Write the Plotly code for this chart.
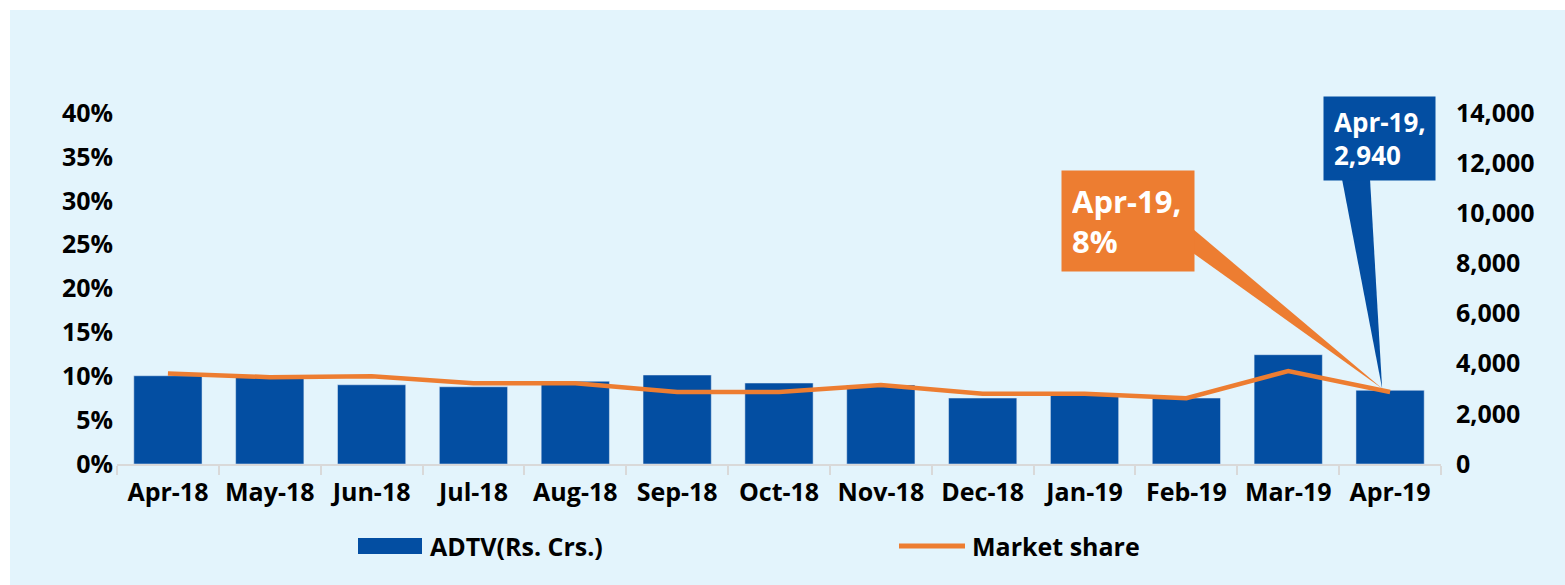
import plotly.graph_objects as go

# ---------------- data ----------------
months = ["Apr-18", "May-18", "Jun-18", "Jul-18", "Aug-18", "Sep-18", "Oct-18",
          "Nov-18", "Dec-18", "Jan-19", "Feb-19", "Mar-19", "Apr-19"]
adtv = [3520, 3450, 3160, 3080, 3300, 3550, 3230, 3150, 2630, 2750, 2630, 4360, 2940]
market_share = [0.103, 0.099, 0.100, 0.092, 0.092, 0.082, 0.082, 0.090, 0.080,
                0.080, 0.075, 0.106, 0.082]
share_ticks = [0, 0.05, 0.10, 0.15, 0.20, 0.25, 0.30, 0.35, 0.40]
adtv_ticks = [0, 2000, 4000, 6000, 8000, 10000, 12000, 14000]
series_names = ["ADTV(Rs. Crs.)", "Market share"]

# ---------------- style ----------------
W, H = 1565, 585
L, R, T, B = 117, 1441, 113, 464
BLUE = "#034EA2"
ORANGE = "#ED7D31"
PANEL = "#E3F4FC"
AXIS = "#D9D9D9"
FONT = "Open Sans"
FS = 25

ADTV_MAX = adtv_ticks[-1]
SHARE_MAX = share_ticks[-1]


def px(xp):
    return (xp - L) / (R - L)


def py(yp):
    return (B - yp) / (B - T)


fig = go.Figure()
fig.add_trace(go.Bar(x=months, y=adtv, name=series_names[0], marker_color=BLUE,
                     yaxis="y", showlegend=False))
fig.add_trace(go.Scatter(x=months, y=market_share, name=series_names[1], mode="lines",
                         line=dict(color=ORANGE, width=4.5), yaxis="y2", showlegend=False))

# data-derived callout tip (last point)
n = len(months)
tip_x = (n - 0.5) / n
tip_y = adtv[-1] / ADTV_MAX

shapes = [
    # panel background
    dict(type="rect", xref="paper", yref="paper", x0=px(10), x1=px(W + 5), y0=py(10), y1=py(H + 5),
         fillcolor=PANEL, line=dict(width=0), layer="below"),
    # orange pointer wedge
    dict(type="path", xref="paper", yref="paper",
         path=f"M {px(1193)},{py(229)} L {px(1193)},{py(253)} L {tip_x - 0.006},{tip_y + 0.005} Z",
         fillcolor=ORANGE, line=dict(width=0)),
    # blue pointer wedge
    dict(type="path", xref="paper", yref="paper",
         path=f"M {px(1342)},{py(179)} L {px(1370)},{py(179)} L {tip_x - 0.006},{tip_y + 0.005} Z",
         fillcolor=BLUE, line=dict(width=0)),
    # custom legend swatches
    dict(type="rect", xref="paper", yref="paper", x0=px(358), x1=px(422), y0=py(538), y1=py(554),
         fillcolor=BLUE, line=dict(width=0)),
    dict(type="line", xref="paper", yref="paper", x0=px(899), x1=px(965), y0=py(546), y1=py(546),
         line=dict(color=ORANGE, width=5)),
]

annotations = [
    dict(xref="paper", yref="paper", x=px(1323), y=py(96), xanchor="left", yanchor="top",
         text=f"{months[-1]},<br>{adtv[-1]:,}", showarrow=False, align="left", valign="middle",
         bgcolor=BLUE, borderpad=10, width=91, height=63,
         font=dict(family=FONT, size=26, color="white", weight="bold")),
    dict(xref="paper", yref="paper", x=px(1061), y=py(170), xanchor="left", yanchor="top",
         text=f"{months[-1]},<br>{market_share[-1]:.0%}", showarrow=False, align="left", valign="middle",
         bgcolor=ORANGE, borderpad=10, width=112, height=80,
         font=dict(family=FONT, size=31, color="white", weight="bold")),
    dict(xref="paper", yref="paper", x=px(428), y=py(546), xanchor="left", yanchor="middle",
         text=series_names[0], showarrow=False,
         font=dict(family=FONT, size=FS, color="black", weight="bold")),
    dict(xref="paper", yref="paper", x=px(970), y=py(546), xanchor="left", yanchor="middle",
         text=series_names[1], showarrow=False,
         font=dict(family=FONT, size=FS, color="black", weight="bold")),
]

tickfont = dict(family=FONT, size=FS, color="black", weight="bold")

fig.update_layout(
    width=W, height=H, autosize=False,
    margin=dict(l=L, r=W - R, t=T, b=H - B, pad=0),
    paper_bgcolor="white", plot_bgcolor="rgba(0,0,0,0)",
    bargap=0.33,
    showlegend=False,
    xaxis=dict(type="category", tickson="boundaries", ticks="outside", ticklen=9,
               tickcolor=AXIS, tickwidth=1.5, showline=True, linecolor=AXIS, linewidth=1.5,
               showgrid=False, tickfont=tickfont, ticklabelstandoff=5, fixedrange=True),
    yaxis=dict(side="right", range=[0, ADTV_MAX], tickvals=adtv_ticks, tickformat=",",
               showgrid=False, zeroline=False, showline=False, ticks="",
               tickfont=tickfont, ticklabelstandoff=14),
    yaxis2=dict(side="left", overlaying="y", range=[0, SHARE_MAX], tickvals=share_ticks,
                tickformat=".0%", showgrid=False, zeroline=False, showline=False, ticks="",
                tickfont=tickfont, ticklabelstandoff=3),
    shapes=shapes,
    annotations=annotations,
)

fig.write_html("out.html", config={"displayModeBar": False},
               post_script="document.body.style.margin='0';document.body.style.overflow='hidden';")
